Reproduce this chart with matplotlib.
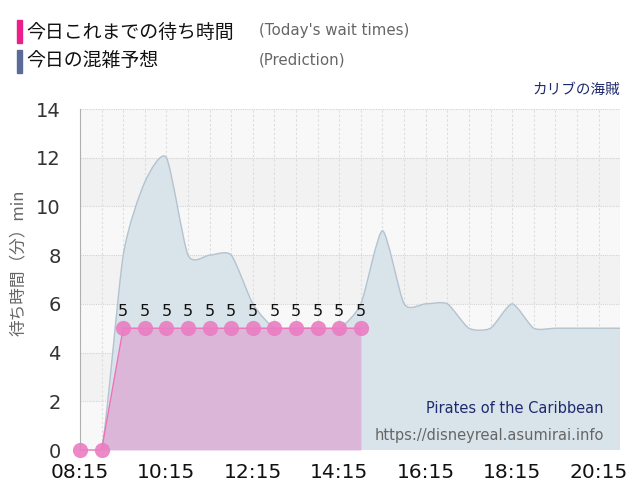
import numpy as np
import matplotlib
matplotlib.use("Agg")
import matplotlib.pyplot as plt
from matplotlib.path import Path
from matplotlib.patches import PathPatch, Rectangle

plt.rcParams['font.family'] = ['DejaVu Sans', 'Noto Sans CJK JP']
JP = ['Noto Sans CJK JP', 'DejaVu Sans']

# prediction, every 30 minutes from 08:15 to 20:45
pred_times = ['08:15', '08:45', '09:15', '09:45', '10:15', '10:45', '11:15', '11:45',
              '12:15', '12:45', '13:15', '13:45', '14:15', '14:45', '15:15', '15:45',
              '16:15', '16:45', '17:15', '17:45', '18:15', '18:45', '19:15', '19:45',
              '20:15', '20:45']
pred_values = [0, 0, 8, 11, 12, 8, 8, 8, 6, 5, 5, 5, 5, 6, 9, 6, 6, 6, 5, 5, 6, 5, 5, 5, 5, 5]

# today's actual wait times
wait_times = ['08:15', '08:45', '09:15', '09:45', '10:15', '10:45', '11:15', '11:45',
              '12:15', '12:45', '13:15', '13:45', '14:15', '14:45']
wait_values = [0, 0, 5, 5, 5, 5, 5, 5, 5, 5, 5, 5, 5, 5]

tick_labels = ['08:15', '10:15', '12:15', '14:15', '16:15', '18:15', '20:15']


def to_min(s):
    h, m = s.split(':')
    return int(h) * 60 + int(m)


def spline_path(xs, ys, k=1 / 9):
    # cardinal-spline style bezier through the points
    n = len(xs)
    verts = [(xs[0], ys[0])]
    codes = [Path.MOVETO]
    for i in range(1, n):
        x0, y0 = xs[max(i - 2, 0)], ys[max(i - 2, 0)]
        x1, y1 = xs[i - 1], ys[i - 1]
        x2, y2 = xs[i], ys[i]
        x3, y3 = xs[min(i + 1, n - 1)], ys[min(i + 1, n - 1)]
        c1 = (x1 + (x2 - x0) * k, y1 + (y2 - y0) * k)
        c2 = (x2 - (x3 - x1) * k, y2 - (y3 - y1) * k)
        verts += [c1, c2, (x2, y2)]
        codes += [Path.CURVE4] * 3
    return verts, codes


px = [to_min(t) for t in pred_times]
wx = [to_min(t) for t in wait_times]
xmin, xmax = to_min('08:15'), to_min('20:45')

fig = plt.figure(figsize=(6.4, 5.0), dpi=100)
ax = fig.add_axes([0.125, 0.1, 0.844, 0.682])
ax.set_xlim(xmin, xmax)
ax.set_ylim(0, 14)

# alternating bands
for i, y0 in enumerate(range(0, 14, 2)):
    ax.add_patch(Rectangle((xmin, y0), xmax - xmin, 2,
                           facecolor='#f2f2f2' if i % 2 else '#f8f8f8',
                           edgecolor='none', zorder=0))

# grid
for t in range(xmin, xmax + 1, 30):
    ax.axvline(t, color='#dddddd', lw=0.8, ls=(0, (2, 2)), zorder=0.5)
for y in range(2, 15, 2):
    ax.axhline(y, color='#d4d4d4', lw=0.8, ls=(0, (1, 1)), zorder=0.5)

# prediction area
verts, codes = spline_path(px, pred_values)
area = verts + [(px[-1], 0), (px[0], 0), verts[0]]
area_codes = codes + [Path.LINETO, Path.LINETO, Path.CLOSEPOLY]
ax.add_patch(PathPatch(Path(area, area_codes), facecolor='#d9e3ea',
                       edgecolor='none', zorder=1))
ax.add_patch(PathPatch(Path(verts, codes), facecolor='none',
                       edgecolor='#b3c3cf', lw=1, zorder=1.5))

# today's wait times
ax.fill_between(wx, wait_values, 0, color='#dcb2d6', alpha=0.9, lw=0, zorder=2)
ax.plot(wx, wait_values, color='#ef6fb8', lw=1, zorder=3, clip_on=False)
ax.scatter(wx, wait_values, s=120, color='#ea7dc2', alpha=0.9, lw=0, zorder=4,
           clip_on=False)
for x, v in zip(wx, wait_values):
    if v > 0:
        ax.text(x, v + 0.38, str(v), ha='center', va='bottom', fontsize=11.5,
                color='#111111', zorder=5)

ax.set_xticks([to_min(t) for t in tick_labels])
ax.set_xticklabels(tick_labels, fontsize=14.5, color='#111111')
ax.set_yticks(range(0, 15, 2))
ax.tick_params(axis='y', labelsize=14, colors='#333333', length=0, pad=14)
ax.tick_params(axis='x', length=0, pad=9)
for s in ['top', 'right', 'bottom']:
    ax.spines[s].set_visible(False)
ax.spines['left'].set_color('#b0b0b0')
ax.set_ylabel('待ち時間（分）min', family=JP, fontsize=12, color='#666666', labelpad=6)
ax.yaxis.set_label_coords(-0.098, 0.55)

ax.text(0.97, 0.1, 'Pirates of the Caribbean', transform=ax.transAxes, ha='right',
        va='bottom', fontsize=10.5, color='#1f2a6e', zorder=6)
ax.text(0.97, 0.02, 'https://disneyreal.asumirai.info', transform=ax.transAxes,
        ha='right', va='bottom', fontsize=10.5, color='#666666', zorder=6)

# header legend
fig.patches.append(Rectangle((17 / 640, 1 - 43 / 500), 5 / 640, 23 / 500,
                             transform=fig.transFigure, color='#ea1f8c'))
fig.patches.append(Rectangle((17 / 640, 1 - 73 / 500), 5 / 640, 23 / 500,
                             transform=fig.transFigure, color='#5a6b98'))
fig.text(26 / 640, 1 - 32 / 500, '今日これまでの待ち時間', family=JP, fontsize=13.6,
         va='center', color='#111111')
fig.text(26 / 640, 1 - 61 / 500, '今日の混雑予想', family=JP, fontsize=13.6,
         va='center', color='#111111')
fig.text(259 / 640, 1 - 31 / 500, "(Today's wait times)", fontsize=10.8,
         va='center', color='#666666')
fig.text(259 / 640, 1 - 60 / 500, '(Prediction)', fontsize=10.8,
         va='center', color='#666666')
fig.text(620 / 640, 1 - 90 / 500, 'カリブの海賊', family=JP, fontsize=10.5,
         ha='right', va='center', color='#1f2a6e')

fig.savefig('out.png', dpi=100)
